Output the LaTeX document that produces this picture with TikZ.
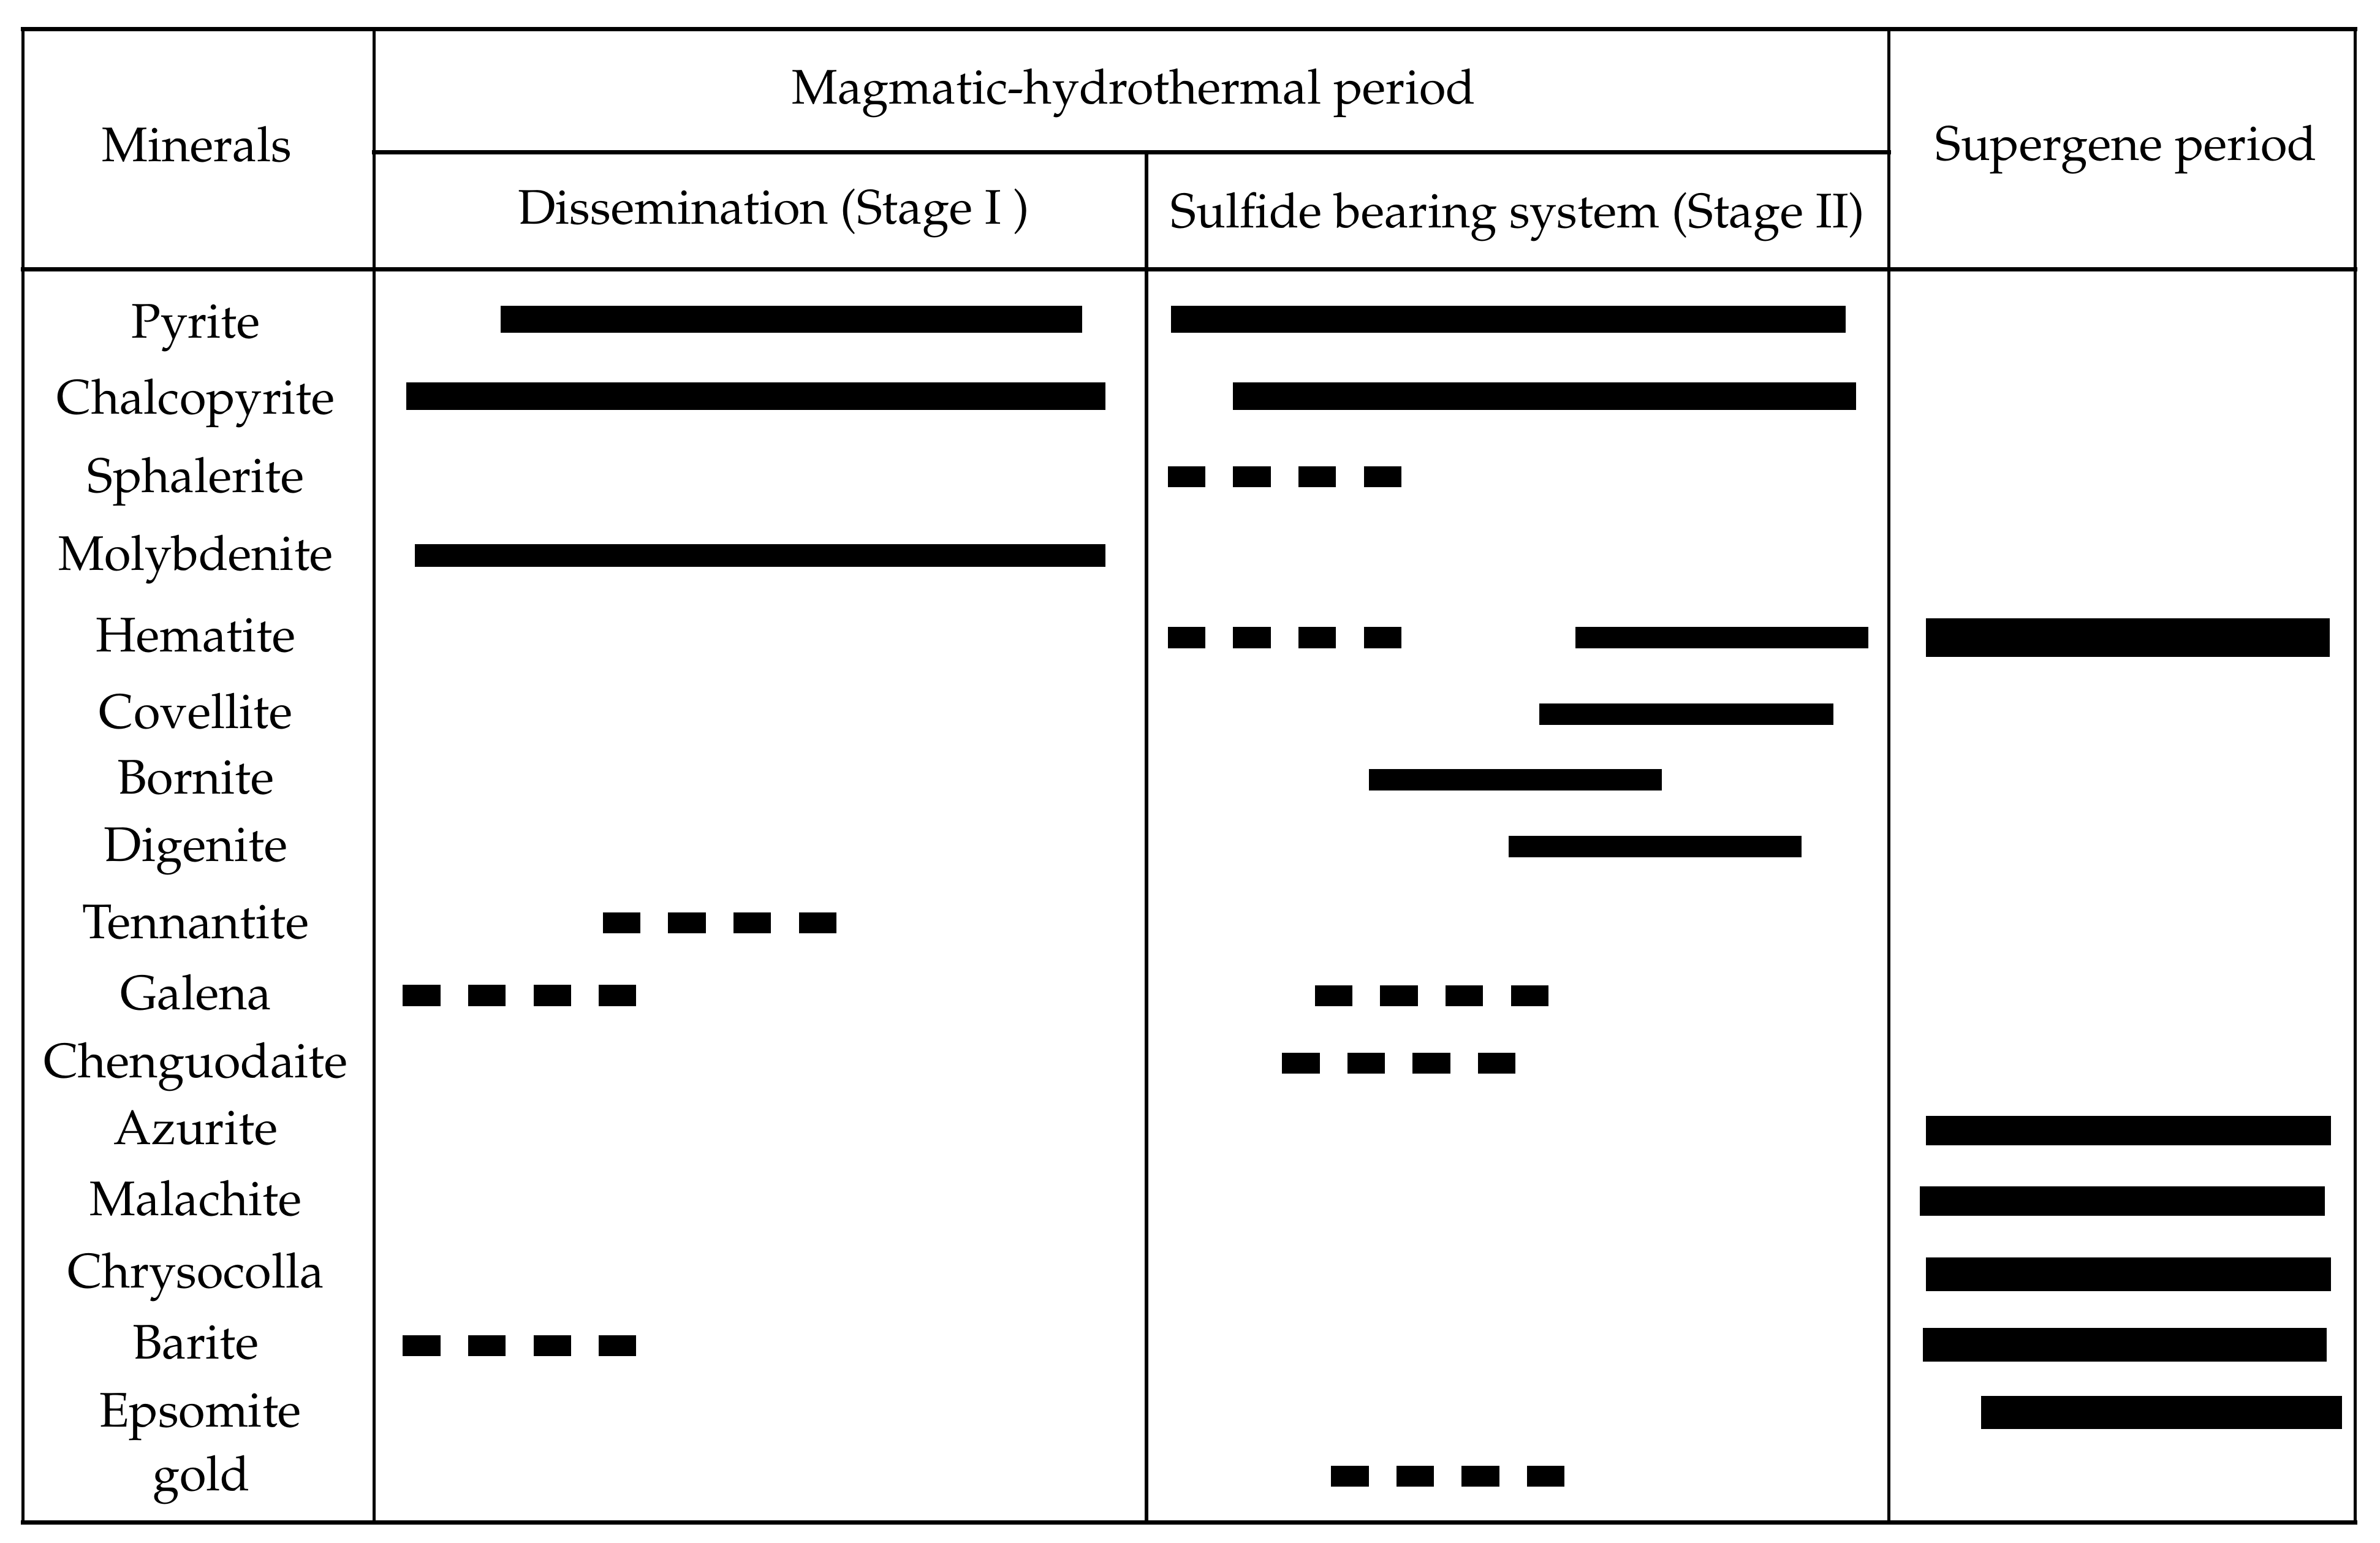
\documentclass[tikz,border=0pt]{standalone}
\usepackage[T1]{fontenc}
\usepackage{mathpazo}

\tikzset{
	rule/.style={line width=2pt, line cap=rect},
	vrule/.style={line width=1.5pt},
	lbl/.style={anchor=base, inner sep=0pt, font=\fontsize{22.75}{27}\selectfont},
	bar/.style={line width=#1*0.7113pt},
	dashbar/.style={line width=9.9pt, dash pattern=on 17.57pt off 13.02pt},
}

\begin{document}
\begin{tikzpicture}[x=0.025cm, y=-0.025cm]
		\useasboundingbox (0,0) rectangle (1568,1016.5);
		
		% table frame
		\draw[vrule] (15,19) -- (15,1003);
		\draw[vrule] (246.5,19) -- (246.5,1003);
		\draw[vrule] (755.3,100.5) -- (755.3,1003);
		\draw[vrule] (1244.5,19) -- (1244.5,1003);
		\draw[vrule] (1551.5,19) -- (1551.5,1003);
		\draw[rule] (15,19) -- (1551.5,19);
		\draw[rule] (246.5,100.5) -- (1244.5,100.5);
		\draw[rule] (15,177.5) -- (1551.5,177.5);
		\draw[rule] (15,1003) -- (1551.5,1003);
		
		% head
		\node[lbl] (minerals) at (129.7,106.3) {Minerals};
		\node[lbl] (magmatic) at (746.9,68.6) {Magmatic-hydrothermal period};
		\node[lbl] (supergene) at (1400.7,105.6) {Supergene period};
		\node[lbl] (stageI) at (509.8,147.4) {Dissemination (Stage I )};
		\node[lbl] (stageII) at (1000,150) {Sulfide bearing system (Stage II)};
		
		% minerals
		\node[lbl] (pyrite) at (129,222.6) {Pyrite};
		\node[lbl] (chalcopyrite) at (129,272.7) {Chalcopyrite};
		\node[lbl] (sphalerite) at (129,324.4) {Sphalerite};
		\node[lbl] (molybdenite) at (129,375.8) {Molybdenite};
		\node[lbl] (hematite) at (129,429.3) {Hematite};
		\node[lbl] (covellite) at (129,479.7) {Covellite};
		\node[lbl] (bornite) at (129,523.1) {Bornite};
		\node[lbl] (digenite) at (129,567.3) {Digenite};
		\node[lbl] (tennantite) at (129,618.2) {Tennantite};
		\node[lbl] (galena) at (129,664.9) {Galena};
		\node[lbl] (chenguodaite) at (129,710) {Chenguodaite};
		\node[lbl] (azurite) at (129,753.9) {Azurite};
		\node[lbl] (malachite) at (129,800.6) {Malachite};
		\node[lbl] (chrysocolla) at (129,848.4) {Chrysocolla};
		\node[lbl] (barite) at (129,895.1) {Barite};
		\node[lbl] (epsomite) at (132,940.1) {Epsomite};
		\node[lbl] (gold) at (132.7,982) {gold};
		
		% stage I
		\draw[bar=17.7] (330,210.5) -- (713,210.5);
		\draw[bar=18] (267.6,261) -- (728.3,261);
		\draw[bar=15] (273.3,366) -- (728.3,366);
		\draw[dashbar] (397.2,608) -- +(153.7,0);
		\draw[dashbar] (265.4,655.8) -- +(153.7,0);
		\draw[dashbar] (265.4,886.5) -- +(153.7,0);
		
		% stage II
		\draw[bar=17.7] (771.4,210.5) -- (1216,210.5);
		\draw[bar=18] (812.3,261) -- (1223,261);
		\draw[dashbar] (769.4,314) -- +(153.7,0);
		\draw[dashbar] (769.4,420) -- +(153.7,0);
		\draw[bar=14] (1038,420) -- (1231,420);
		\draw[bar=14] (1014,470.6) -- (1208,470.6);
		\draw[bar=14] (902,513.6) -- (1095,513.6);
		\draw[bar=14] (994,557.8) -- (1187,557.8);
		\draw[dashbar] (866.3,656) -- +(153.7,0);
		\draw[dashbar] (844.7,700.5) -- +(153.7,0);
		\draw[dashbar] (877,972.5) -- +(153.7,0);
		
		% supergene
		\draw[bar=25.5] (1269,420) -- (1535,420);
		\draw[bar=19.4] (1269,745) -- (1535.6,745);
		\draw[bar=19.2] (1265,791.2) -- (1531.5,791.2);
		\draw[bar=22] (1269,839.4) -- (1535.6,839.4);
		\draw[bar=22.3] (1267,886) -- (1533,886);
		\draw[bar=22.1] (1305,930.5) -- (1543,930.5);
	\end{tikzpicture}
\end{document}
